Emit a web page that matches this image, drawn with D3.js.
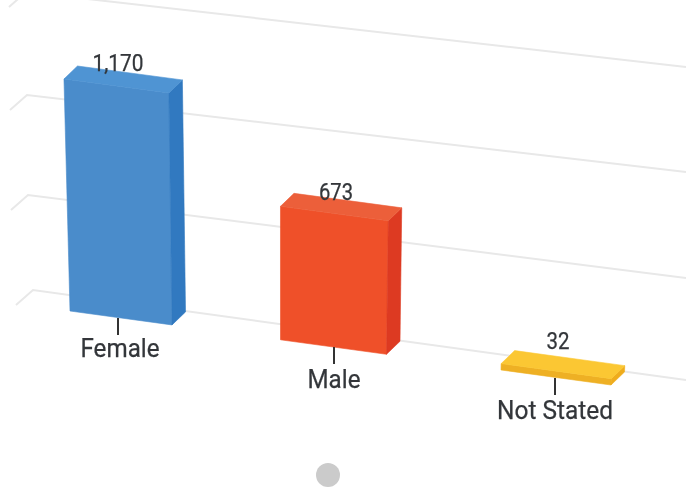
<!DOCTYPE html>
<html><head><meta charset="utf-8">
<script src="https://cdn.jsdelivr.net/npm/d3@7/dist/d3.min.js"></script>
<style>html,body{margin:0;background:#fff;overflow:hidden}svg{display:block;filter:blur(0.5px)}text{font-family:Roboto,sans-serif;fill:#33363a;stroke:#33363a;stroke-width:0.25px}</style>
</head><body>
<script>
const categories = ["Female", "Male", "Not Stated"];
const values = [1170, 673, 32];
const valueLabels = ["1,170", "673", "32"];
const gridValues = [0, 500, 1000, 1500];
const frontColors = ["#4a8ccb", "#ef5029", "#eeb024"];
const sideColors = ["#3179c0", "#dd3a22", "#efac1c"];
const topColors = ["#4f94d3", "#ec5f3a", "#fbc733"];

const W = 686, H = 489;
const idx = categories.map((_, i) => i);
const svg = d3.select("body").append("svg").attr("width", W).attr("height", H);

// perspective scales
const barCenter = d3.scaleLinear().domain([0, 1, 2]).range([121, 333.5, 556]);
const barWidth = d3.scaleLinear().domain([0, 2]).range([102, 110]);
const tickX = d3.scaleLinear().domain([0, 1, 2]).range([118, 334, 555]);
const tickTop = d3.scaleLinear().domain([0, 1, 2]).range([318, 347, 378]);
const labelBase = d3.scaleLinear().domain([0, 1, 2]).range([357, 388, 419]);
const valueX = d3.scaleLinear().domain([0, 1, 2]).range([118, 336, 558]);
const valueLift = d3.scaleLinear().domain([0, 1, 2]).range([2, 1, 9]);
const floorY = d3.scaleLinear().domain([70, 611]).range([311, 385]);
const height = d3.scaleLinear().domain([0, 1170]).range([0, 232]);
const lean = x => (x - 281) * 0.000123;
const depth = { x: 13.5, y: -13 };

// grid
const gridLeftY = d3.scaleLinear().domain(gridValues).range([290, 195, 95, -8]);
const gridRightY = d3.scaleLinear().domain(gridValues).range([380, 278, 172, 67]);
const gridCornerX = d3.scaleLinear().domain(gridValues).range([33, 28, 27, 26]);
const stub = { x: -17, y: 15 };
svg.append("g").selectAll("polyline").data(gridValues).join("polyline")
  .attr("fill", "none").attr("stroke", "#e8e8e8").attr("stroke-width", 2)
  .attr("points", v => [
    [gridCornerX(v) + stub.x, gridLeftY(v) + stub.y],
    [gridCornerX(v), gridLeftY(v)],
    [W, gridRightY(v)]
  ].join(" "));

// bars
function corners(i) {
  const h = height(values[i]);
  const xl = barCenter(i) - barWidth(i) / 2, xr = barCenter(i) + barWidth(i) / 2;
  const bl = [xl, floorY(xl)], br = [xr, floorY(xr)];
  const tl = [xl + lean(xl) * h, bl[1] - h], tr = [xr + lean(xr) * h, br[1] - h];
  const back = p => [p[0] + depth.x, p[1] + depth.y];
  return { bl, br, tl, tr, btl: back(tl), btr: back(tr), bbr: back(br) };
}
const bars = svg.append("g").selectAll("g").data(idx).join("g");
bars.append("polygon").attr("fill", i => frontColors[i]).attr("stroke", i => frontColors[i]).attr("stroke-width", 0.6)
  .attr("points", i => { const c = corners(i); return [c.bl, c.br, c.tr, c.tl].join(" "); });
bars.append("polygon").attr("fill", i => sideColors[i]).attr("stroke", i => sideColors[i]).attr("stroke-width", 0.6)
  .attr("points", i => { const c = corners(i); return [c.br, c.bbr, c.btr, c.tr].join(" "); });
bars.append("polygon").attr("fill", i => topColors[i]).attr("stroke", i => topColors[i]).attr("stroke-width", 0.6)
  .attr("points", i => { const c = corners(i); return [c.tl, c.tr, c.btr, c.btl].join(" "); });

// ticks
svg.append("g").selectAll("line").data(idx).join("line")
  .attr("x1", tickX).attr("x2", tickX)
  .attr("y1", tickTop).attr("y2", i => tickTop(i) + 17)
  .attr("stroke", "#333").attr("stroke-width", 2);

// category labels
svg.append("g").selectAll("text").data(idx).join("text")
  .attr("x", i => tickX(i) + (i === 0 ? 2 : 0)).attr("y", labelBase)
  .attr("text-anchor", "middle").attr("font-size", 26)
  .attr("textLength", i => [79, 53, 116][i]).attr("lengthAdjust", "spacingAndGlyphs")
  .text(i => categories[i]);

// value labels
svg.append("g").selectAll("text").data(idx).join("text")
  .attr("x", valueX)
  .attr("y", i => corners(i).btl[1] + (corners(i).btr[1] - corners(i).btl[1]) / 2 - valueLift(i))
  .attr("text-anchor", "middle").attr("font-size", 23)
  .attr("textLength", i => [51, 34, 23][i]).attr("lengthAdjust", "spacingAndGlyphs")
  .text(i => valueLabels[i]);

// pager dot
svg.append("circle").attr("cx", 328).attr("cy", 475).attr("r", 12).attr("fill", "#cbcbcb");
</script>
</body></html>
